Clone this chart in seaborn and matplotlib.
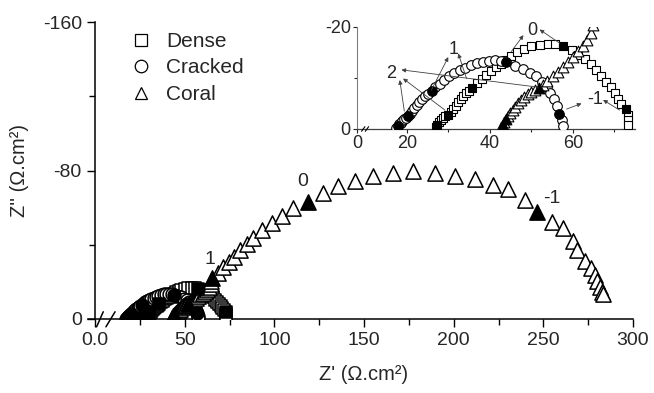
import numpy as np
import pandas as pd
import matplotlib
matplotlib.use("Agg")
import matplotlib.pyplot as plt
import seaborn as sns
from matplotlib.lines import Line2D

sns.set_style("ticks")
plt.rcParams["font.family"] = ["Liberation Sans", "DejaVu Sans"]

# Nyquist data (Z', Z'' in ohm.cm2)
# open markers
dense_re = [27.0, 27.7, 28.2, 28.7, 29.3, 30.6, 31.2, 31.8, 32.4, 33.0, 33.6, 34.3, 35.0,
            36.8, 38.0, 39.2, 40.4, 41.6, 42.8, 44.0, 45.2, 46.6, 48.2, 50.0, 52.0, 54.0, 55.8,
            59.7, 61.3, 62.9, 64.4, 65.7, 66.9, 68.1, 69.1, 70.1, 70.9, 71.7, 73.2, 73.3, 73.3]
dense_im = [-0.3, -1.3, -1.8, -2.2, -2.5, -3.4, -4.0, -4.6, -5.2, -5.8, -6.4, -7.0, -7.5,
            -9.0, -9.8, -10.6, -11.4, -12.1, -12.8, -13.5, -14.4, -15.1, -15.7, -16.2, -16.5, -16.7, -16.6,
            -15.5, -14.6, -13.7, -12.7, -11.6, -10.4, -9.3, -8.2, -7.0, -5.9, -4.9, -2.8, -1.8, -0.7]

cracked_re = [17.5, 18.2, 18.5, 18.9, 19.3, 19.7, 20.7, 21.2, 21.8, 22.4, 23.0, 23.7, 24.4, 25.2,
              26.9, 27.9, 29.0, 30.2, 31.4, 32.7, 34.0, 35.4, 36.8, 38.3, 39.8, 41.3, 42.7,
              46.0, 47.9, 49.6, 51.1, 52.5, 53.7, 54.6, 55.4, 56.1, 57.3, 57.7]
cracked_im = [-0.2, -0.9, -1.2, -1.6, -1.9, -2.2, -3.0, -3.5, -4.1, -4.7, -5.3, -5.9, -6.4, -6.9,
              -8.2, -8.9, -9.6, -10.3, -10.9, -11.5, -12.0, -12.5, -12.9, -13.2, -13.4, -13.5, -13.4,
              -12.4, -11.7, -11.0, -10.3, -9.3, -8.3, -7.1, -5.8, -4.5, -1.7, -0.5]

coral_re = [42.8, 43.5, 44.4, 44.9, 45.5, 46.1, 46.8, 47.5, 48.3, 49.1, 50.0, 50.9,
            52.8, 53.9, 55.2, 56.4, 57.6, 58.8, 60.0, 61.2, 62.4, 63.5, 64.5, 64.8,
            68.8, 71.6, 74.7, 77.7, 81.0, 84.6, 88.3, 93.0, 98.5, 104.1, 110.6,
            127.3, 135.7, 145.0, 155.2, 166.4, 177.5, 189.6, 200.8, 211.9, 222.2, 230.5, 239.8,
            254.7, 261.2, 266.4, 268.7, 273.3, 276.5, 278.9, 280.1, 281.6, 282.6, 283.5]
coral_im = [-0.3, -1.4, -2.6, -3.2, -3.8, -4.4, -5.0, -5.6, -6.2, -6.8, -7.3, -7.7,
            -8.6, -9.4, -10.3, -11.2, -12.2, -13.2, -14.2, -15.2, -16.3, -17.5, -18.8, -20.3,
            -25.0, -27.8, -30.5, -33.6, -37.0, -40.2, -43.5, -48.0, -51.9, -55.7, -59.6,
            -68.1, -71.7, -74.4, -77.0, -78.8, -79.7, -78.5, -77.0, -75.3, -72.2, -69.9, -64.1,
            -52.4, -48.8, -42.2, -37.2, -31.4, -27.3, -23.7, -20.6, -17.4, -14.7, -13.5]

# filled markers = one per frequency decade
dense_dec_re = [27.3, 30.0, 35.8, 57.7, 72.9]
dense_dec_im = [-0.8, -2.8, -8.1, -16.2, -3.9]
cracked_dec_re = [17.9, 20.2, 26.0, 44.0, 56.7]
cracked_dec_im = [-0.5, -2.5, -7.5, -13.1, -3.0]
coral_dec_re = [43.1, 43.9, 51.9, 65.1, 119.0, 246.3]
coral_dec_im = [-0.8, -2.0, -8.1, -21.9, -63.2, -57.8]

samples = ["Dense", "Cracked", "Coral"]
markers = {"Dense": "s", "Cracked": "o", "Coral": "^"}

frames = []
for name, re, im, dre, dim in [
    ("Dense", dense_re, dense_im, dense_dec_re, dense_dec_im),
    ("Cracked", cracked_re, cracked_im, cracked_dec_re, cracked_dec_im),
    ("Coral", coral_re, coral_im, coral_dec_re, coral_dec_im),
]:
    frames.append(pd.DataFrame({"re": re, "im": im, "sample": name, "decade": False}))
    frames.append(pd.DataFrame({"re": dre, "im": dim, "sample": name, "decade": True}))
df = pd.concat(frames, ignore_index=True)


def draw(ax, sizes, lw):
    for name in samples:
        sub = df[df["sample"] == name]
        sns.scatterplot(data=sub[~sub["decade"]], x="re", y="im", marker=markers[name],
                        s=sizes[name], color="white", edgecolor="black", linewidth=lw,
                        ax=ax, legend=False, zorder=3)
        sns.scatterplot(data=sub[sub["decade"]], x="re", y="im", marker=markers[name],
                        s=sizes[name], color="black", edgecolor="black", linewidth=lw,
                        ax=ax, legend=False, zorder=4)
    ax.set_xlabel("")
    ax.set_ylabel("")


fig = plt.figure(figsize=(6.54, 3.93), dpi=100)

# main axes
ax = fig.add_axes([0.1343, 0.1883, 0.8336, 0.7557])
draw(ax, {"Dense": 75, "Cracked": 85, "Coral": 120}, 1.1)
ax.set_xlim(-4, 300)
ax.set_ylim(0, -160)
ax.spines["left"].set_position(("data", 0))
sns.despine(ax=ax)
ax.set_xticks([0, 50, 100, 150, 200, 250, 300])
ax.set_xticklabels(["0.0", "50", "100", "150", "200", "250", "300"])
ax.set_xticks([25, 75, 125, 175, 225, 275], minor=True)
ax.set_yticks([0, -80, -160])
ax.set_yticklabels(["0", "-80", "-160"])
ax.set_yticks([-40, -120], minor=True)
ax.tick_params(which="major", direction="out", length=6, width=1, labelsize=14, color="black")
ax.tick_params(which="minor", direction="out", length=4, width=1, color="black")
for sp in ["left", "bottom"]:
    ax.spines[sp].set_linewidth(1.1)
    ax.spines[sp].set_color("black")
ax.set_xlabel("Z' (\u03a9.cm\u00b2)", fontsize=14.5)
ax.set_ylabel("Z'' (\u03a9.cm\u00b2)", fontsize=14.5)
ax.xaxis.set_label_coords(0.505, -0.155)
ax.yaxis.set_label_coords(-0.108, 0.5)

# axis break marks
for x0, x1 in [(0.9, 4.6), (6.1, 11.2)]:
    ax.plot([x0, x1], [4.2, -3.9], color="black", lw=1.1, clip_on=False, zorder=5)

ax.text(64.1, -31.8, "1", fontsize=14, ha="center", va="center")
ax.text(115.6, -74.0, "0", fontsize=14, ha="center", va="center")
ax.text(254.7, -65.0, "-1", fontsize=14, ha="center", va="center")

handles = [Line2D([], [], linestyle="none", marker=markers[n], markersize=9,
                  markerfacecolor="white", markeredgecolor="black", markeredgewidth=0.9)
           for n in samples]
ax.legend(handles, samples, loc="upper left", bbox_to_anchor=(0.04, 1.03), frameon=False,
          fontsize=15, handletextpad=0.6, labelspacing=0.36, handlelength=1.2)

# inset
axi = fig.add_axes([0.5459, 0.6718, 0.4251, 0.2595])
draw(axi, {"Dense": 40, "Cracked": 48, "Coral": 60}, 0.8)
axi.set_xlim(8.0, 75)
axi.set_ylim(0, -20)
sns.despine(ax=axi)
axi.set_xticks([8.0, 20, 40, 60])
axi.set_xticklabels(["0", "20", "40", "60"])
axi.set_xticks([30, 50, 70], minor=True)
axi.set_yticks([0, -20])
axi.set_yticklabels(["0", "-20"])
axi.set_yticks([-10], minor=True)
axi.tick_params(which="major", direction="out", length=3, width=0.8, labelsize=13, pad=1.5)
axi.tick_params(which="minor", direction="out", length=2, width=0.8)
axi.spines["left"].set_color("0.5")
axi.spines["left"].set_linewidth(0.8)
axi.spines["bottom"].set_color("0.25")
axi.spines["bottom"].set_linewidth(0.9)
for x0, x1 in [(9.1, 9.9), (10.0, 10.8)]:
    axi.plot([x0, x1], [0.45, -0.45], color="black", lw=0.8, clip_on=False, zorder=5)

axi.text(16.3, -10.8, "2", fontsize=13, ha="center", va="center")
axi.text(31.3, -15.5, "1", fontsize=13, ha="center", va="center")
axi.text(50.2, -19.3, "0", fontsize=13, ha="center", va="center")
axi.text(65.3, -5.7, "-1", fontsize=13, ha="center", va="center")

arrows = [
    ((19.4, -3.5), (18.3, -9.6)),
    ((29.2, -3.7), (19.1, -9.9)),
    ((51.6, -8.2), (18.7, -11.6)),
    ((25.9, -7.6), (30.0, -14.1)),
    ((34.4, -9.9), (32.4, -14.8)),
    ((45.2, -15.2), (48.1, -18.4)),
    ((56.9, -16.8), (52.0, -19.5)),
    ((58.5, -3.9), (62.1, -5.0)),
    ((71.3, -3.7), (67.3, -5.7)),
]
for tail, head in arrows:
    axi.annotate("", xy=head, xytext=tail, annotation_clip=False,
                 arrowprops=dict(arrowstyle="-|>", lw=0.6, color="0.25",
                                 mutation_scale=6, shrinkA=0, shrinkB=0), zorder=6)

fig.savefig("out.png", dpi=100)
